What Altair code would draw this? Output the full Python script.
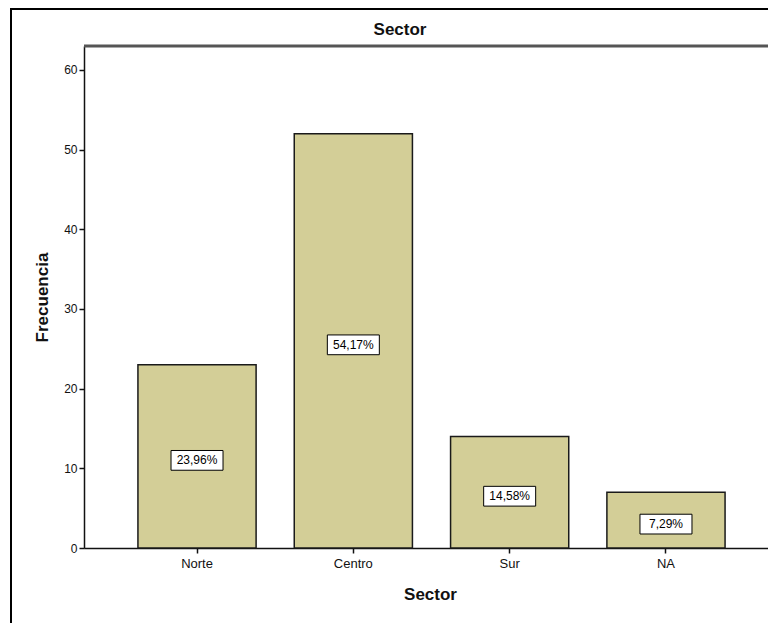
import altair as alt
import pandas as pd

categories = ["Norte", "Centro", "Sur", "NA"]
counts = [23, 52, 14, 7]
pct_labels = ["23,96%", "54,17%", "14,58%", "7,29%"]
y_ticks = [0, 10, 20, 30, 40, 50, 60]
chart_title = "Sector"

df = pd.DataFrame({"Sector": categories, "Frecuencia": counts, "label": pct_labels})

W, H = 684, 502
FONT = "Liberation Sans"

xscale = alt.Scale(domain=categories, range=[0, 695], paddingInner=0.244, paddingOuter=0.345)
yscale = alt.Scale(domain=[0, 63], nice=False, zero=True)

xaxis = alt.Axis(
    labelAngle=0, labelFont=FONT, labelFontSize=13, labelColor="#111", labelPadding=4,
    tickSize=5, tickColor="#111", domainColor="#111", domainWidth=1.5, tickWidth=1.5,
    titleFont=FONT, titleFontSize=17, titleFontWeight="bold", titleColor="#111",
    titleX=346, titleY=46, titleAlign="center", titleBaseline="middle",
)
yaxis = alt.Axis(
    values=y_ticks, labelFont=FONT, labelFontSize=12, labelColor="#111", labelPadding=2,
    tickSize=5, tickColor="#111", domainColor="#111", domainWidth=1.5, tickWidth=1.5, grid=False,
    titleFont=FONT, titleFontSize=17, titleFontWeight="bold", titleColor="#111",
    titleX=-42, titleY=H / 2, titleAlign="center", titleBaseline="middle", titleAngle=270,
)

base = alt.Chart(df).encode(
    x=alt.X("Sector:N", scale=xscale, sort=categories, axis=xaxis, title="Sector")
)

bars = base.mark_bar(color="#D3CE97", stroke="#1a1a1a", strokeWidth=1.5).encode(
    y=alt.Y("Frecuencia:Q", scale=yscale, axis=yaxis, title="Frecuencia")
)

labeled = base.transform_calculate(mid="datum.Frecuencia / 2")

boxes = labeled.mark_point(
    shape="M-1,-0.38L1,-0.38L1,0.38L-1,0.38Z", size=2704, filled=True,
    fill="white", stroke="black", strokeWidth=1, opacity=1, yOffset=4,
).encode(y=alt.Y("mid:Q", scale=yscale, title="Frecuencia"))

texts = labeled.mark_text(font=FONT, fontSize=12, color="black", baseline="middle", dy=4).encode(
    y=alt.Y("mid:Q", scale=yscale, title="Frecuencia"), text="label:N"
)

one = alt.Data(values=[{"t": chart_title}])
title_mark = alt.Chart(one).mark_text(
    font=FONT, fontSize=17, fontWeight="bold", color="#111", align="center", baseline="middle"
).encode(x=alt.value(316), y=alt.value(-16), text="t:N")

top_line = alt.Chart(one).mark_rule(color="#555555", strokeWidth=3).encode(
    x=alt.value(0), x2=alt.value(W + 20), y=alt.value(0)
)
frame_left = alt.Chart(one).mark_rule(color="black", strokeWidth=2).encode(
    x=alt.value(-73), y=alt.value(-37), y2=alt.value(H + 80)
)
frame_top = alt.Chart(one).mark_rule(color="black", strokeWidth=2).encode(
    x=alt.value(-74), x2=alt.value(W + 20), y=alt.value(-37)
)

chart = alt.layer(bars, boxes, texts, top_line, frame_left, frame_top, title_mark).properties(
    width=W, height=H,
    padding={"left": 76, "top": 38, "right": 0, "bottom": 75},
    autosize="none",
).configure_view(fill="#EFEFEF", strokeWidth=0).configure(background="white")

chart.save("out.html", embed_options={"renderer": "svg", "actions": False})
